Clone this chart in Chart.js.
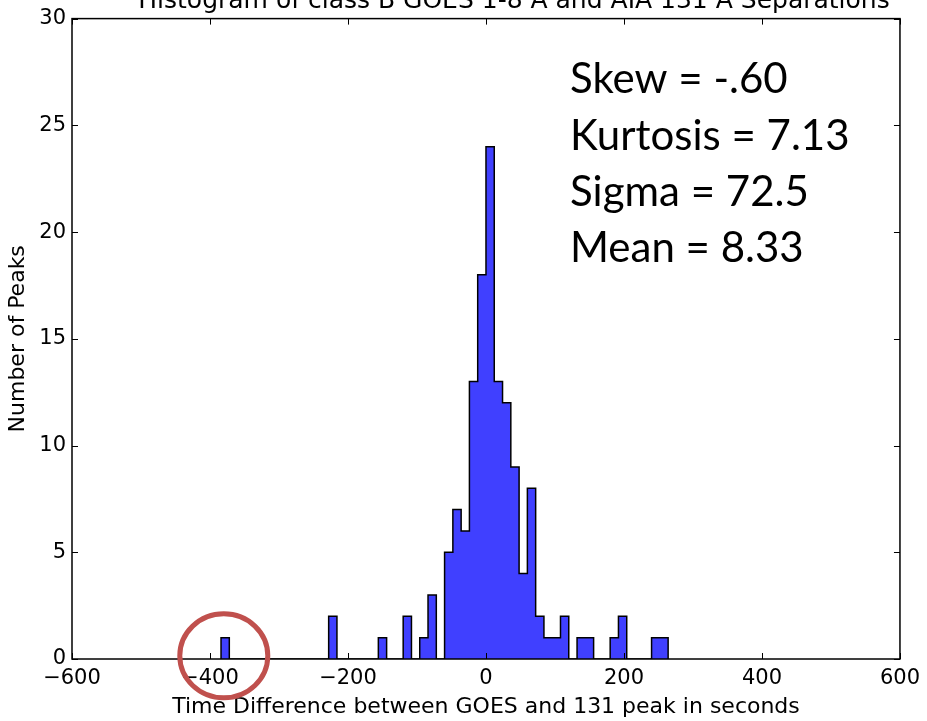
<!DOCTYPE html>
<html>
<head>
<meta charset="utf-8">
<script src="https://cdn.jsdelivr.net/npm/chart.js@4.4.1/dist/chart.umd.min.js"></script>
<style>
  html, body { margin: 0; padding: 0; background: #ffffff; }
  #c { display: block; }
</style>
</head>
<body>
<canvas id="c" width="927" height="721"></canvas>
<script>
// ---- data ----
const chartTitle = 'Histogram of class B GOES 1-8 Å and AIA 131 Å Separations';
const xTitle = 'Time Difference between GOES and 131 peak in seconds';
const yTitle = 'Number of Peaks';
const binEdges = [-384,-372,-360,-348,-336,-324,-312,-300,-288,-276,-264,-252,-240,-228,-216,-204,-192,-180,-168,-156,-144,-132,-120,-108,-96,-84,-72,-60,-48,-36,-24,-12,0,12,24,36,48,60,72,84,96,108,120,132,144,156,168,180,192,204,216,228,240,252,264];
const binCounts = [1,0,0,0,0,0,0,0,0,0,0,0,0,2,0,0,0,0,0,1,0,0,2,0,1,3,0,5,7,6,13,18,24,13,12,9,4,8,2,1,1,2,0,1,1,0,0,1,2,0,0,0,1,1];
const xTicks = [-600,-400,-200,0,200,400,600];
const yTicks = [0,5,10,15,20,25,30];
const statsLines = ['Skew = -.60','Kurtosis = 7.13','Sigma = 72.5','Mean = 8.33'];
const highlightX = -380; // circled outlier
const highlightY = 0.15;

// step outline points built from the bins
const stepPoints = [{x: binEdges[0], y: 0}];
binCounts.forEach((c, i) => stepPoints.push({x: binEdges[i], y: c}));
stepPoints.push({x: binEdges[binEdges.length - 1], y: 0});

const AXIS_FONT = "'DejaVu Sans', sans-serif";

const decor = {
  id: 'decor',
  afterDatasetsDraw(chart) {
    const {ctx, chartArea: a, scales: {x, y}} = chart;
    ctx.save();
    ctx.strokeStyle = '#000';
    ctx.lineWidth = 1.5;
    ctx.strokeRect(a.left, a.top, a.right - a.left, a.bottom - a.top);
    ctx.lineWidth = 1;
    const tl = 6;
    xTicks.forEach(v => {
      const px = Math.round(x.getPixelForValue(v)) + 0.5;
      ctx.beginPath();
      ctx.moveTo(px, a.bottom); ctx.lineTo(px, a.bottom - tl);
      ctx.moveTo(px, a.top); ctx.lineTo(px, a.top + tl);
      ctx.stroke();
    });
    yTicks.forEach(v => {
      const py = Math.round(y.getPixelForValue(v)) + 0.5;
      ctx.beginPath();
      ctx.moveTo(a.left, py); ctx.lineTo(a.left + tl, py);
      ctx.moveTo(a.right, py); ctx.lineTo(a.right - tl, py);
      ctx.stroke();
    });
    ctx.restore();
  },
  afterDraw(chart) {
    const {ctx, scales: {x, y}} = chart;
    ctx.save();
    ctx.fillStyle = '#000';
    ctx.font = "25px " + AXIS_FONT;
    ctx.textAlign = 'center';
    ctx.textBaseline = 'alphabetic';
    ctx.fillText(chartTitle, 514, 8);
    ctx.font = "42px Lato, 'Open Sans', sans-serif";
    ctx.textAlign = 'left';
    const base = [93, 150, 206, 262];
    statsLines.forEach((t, i) => ctx.fillText(t, 570, base[i]));
    const cx = x.getPixelForValue(highlightX);
    const cy = y.getPixelForValue(highlightY);
    ctx.strokeStyle = '#c0504d';
    ctx.lineWidth = 5;
    ctx.beginPath();
    ctx.ellipse(cx, cy, 44, 42, 0, 0, Math.PI * 2);
    ctx.stroke();
    ctx.restore();
  }
};

new Chart(document.getElementById('c'), {
  type: 'line',
  data: {
    datasets: [{
      data: stepPoints,
      stepped: 'before',
      fill: 'origin',
      backgroundColor: 'rgba(0,0,255,0.75)',
      borderColor: '#000',
      borderWidth: 1.5,
      pointRadius: 0,
      tension: 0
    }]
  },
  options: {
    responsive: false,
    animation: false,
    devicePixelRatio: 1,
    layout: { padding: { top: 14, right: 24, left: 0, bottom: 0 } },
    plugins: { legend: { display: false }, tooltip: { enabled: false } },
    scales: {
      x: {
        type: 'linear',
        min: -600, max: 600,
        afterBuildTicks(s) { s.ticks = xTicks.map(v => ({value: v})); },
        afterFit(s) { s.height = 62; },
        grid: { display: false, drawTicks: false },
        border: { display: false },
        ticks: {
          color: '#000', padding: 7,
          font: { family: AXIS_FONT, size: 21 },
          maxRotation: 0,
          callback: v => String(v).replace('-', '\u2212')
        },
        title: {
          display: true, text: xTitle, color: '#000',
          font: { family: AXIS_FONT, size: 22 },
          padding: { top: 0, bottom: 1 }
        }
      },
      y: {
        type: 'linear',
        min: 0, max: 30,
        afterBuildTicks(s) { s.ticks = yTicks.map(v => ({value: v})); },
        afterFit(s) { s.width = 72; },
        grid: { display: false, drawTicks: false },
        border: { display: false },
        ticks: {
          color: '#000', padding: 6,
          font: { family: AXIS_FONT, size: 21 }
        },
        title: {
          display: true, text: yTitle, color: '#000',
          font: { family: AXIS_FONT, size: 22 },
          padding: { top: 5, bottom: 0 }
        }
      }
    }
  },
  plugins: [decor]
});
</script>
</body>
</html>
